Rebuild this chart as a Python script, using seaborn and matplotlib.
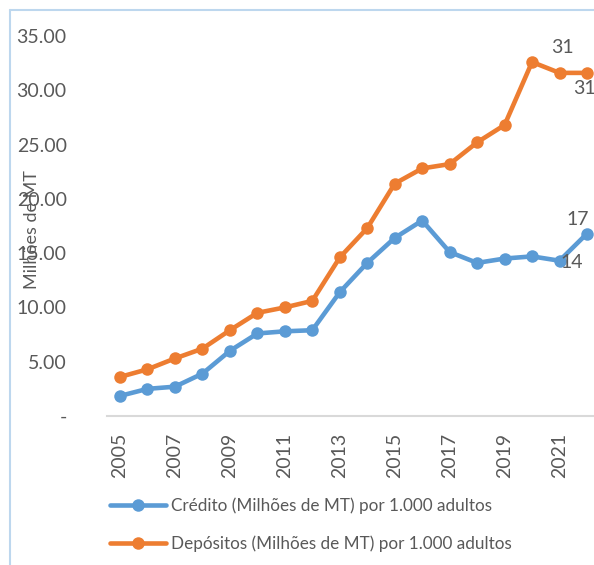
import matplotlib
matplotlib.use("Agg")
import matplotlib.pyplot as plt
from matplotlib.lines import Line2D
import seaborn as sns
import pandas as pd

years = list(range(2005, 2023))
credito = [1.85, 2.5, 2.7, 3.9, 6.0, 7.6, 7.8, 7.9, 11.4, 14.1, 16.4, 18.0,
           15.1, 14.1, 14.5, 14.7, 14.3, 16.8]
depositos = [3.6, 4.3, 5.3, 6.2, 7.9, 9.5, 10.0, 10.6, 14.6, 17.3, 21.4, 22.8,
             23.2, 25.2, 26.8, 32.6, 31.6, 31.6]
labels = ["Crédito (Milhões de MT) por 1.000 adultos",
          "Depósitos (Milhões de MT) por 1.000 adultos"]
x_ticks = list(range(2005, 2022, 2))
y_ticks = [0, 5, 10, 15, 20, 25, 30, 35]

sns.set_theme(style="white")
plt.rcParams["font.family"] = ["Lato", "DejaVu Sans"]
GREY = "#595959"

df = pd.concat([
    pd.DataFrame({"Ano": years, "Valor": credito, "Serie": labels[0]}),
    pd.DataFrame({"Ano": years, "Valor": depositos, "Serie": labels[1]}),
], ignore_index=True)

fig = plt.figure(figsize=(5.94, 5.65), dpi=100)
ax = fig.add_axes([107 / 594, 149 / 565, 487 / 594, 396 / 565])

sns.lineplot(data=df, x="Ano", y="Valor", hue="Serie", palette=["#5B9BD5", "#ED7D31"],
             marker="o", markersize=9, markeredgewidth=0, linewidth=3.3, ax=ax,
             clip_on=False)

ax.set_xlim(2004.527, 2022.255)
ax.set_ylim(0, 36.47)
ax.set_xticks(x_ticks)
ax.set_xticklabels([str(y) for y in x_ticks], rotation=90, fontsize=14, color=GREY)
ax.set_yticks(y_ticks)
ax.set_yticklabels(["-" if v == 0 else f"{v:.2f}" for v in y_ticks], fontsize=14, color=GREY)
ax.tick_params(axis="x", length=0, pad=12)
ax.tick_params(axis="y", length=0, pad=29)
for s in ["top", "right", "left"]:
    ax.spines[s].set_visible(False)
ax.spines["bottom"].set_color("#D9D9D9")
ax.spines["bottom"].set_linewidth(1.5)
ax.set_xlabel("")
ax.set_ylabel("Milhões de MT", fontsize=13, color=GREY)
ax.yaxis.set_label_coords(-67 / 487, 0.47)

# data labels on the last points
lab_kw = dict(fontsize=14, color=GREY, textcoords="offset points", annotation_clip=False)
ax.annotate("31", (years[-2], depositos[-2]), xytext=(2, 12), ha="center", va="bottom", **lab_kw)
ax.annotate("31", (years[-1], depositos[-1]), xytext=(-10, -5), ha="left", va="top", **lab_kw)
ax.annotate("17", (years[-1], credito[-1]), xytext=(-7, 4), ha="center", va="bottom", **lab_kw)
ax.annotate("14", (years[-2], credito[-2]), xytext=(1, -1), ha="left", va="center", **lab_kw)

sns.move_legend(ax, "upper left", bbox_to_anchor=(110 / 594, 1 - 497 / 565),
                bbox_transform=fig.transFigure, title=None, frameon=False,
                fontsize=12.3, handlelength=3.3, handletextpad=0.25, labelspacing=1.3,
                borderaxespad=0, borderpad=0)
for t in ax.get_legend().get_texts():
    t.set_color(GREY)

# chart border (clipped on right and bottom)
fig.add_artist(Line2D([10 / 594, 10 / 594], [0, 1 - 9.5 / 565], color="#BDD7EE", lw=1.5))
fig.add_artist(Line2D([10 / 594, 1], [1 - 9.5 / 565, 1 - 9.5 / 565], color="#BDD7EE", lw=1.5))

fig.savefig("out.png", dpi=100)
